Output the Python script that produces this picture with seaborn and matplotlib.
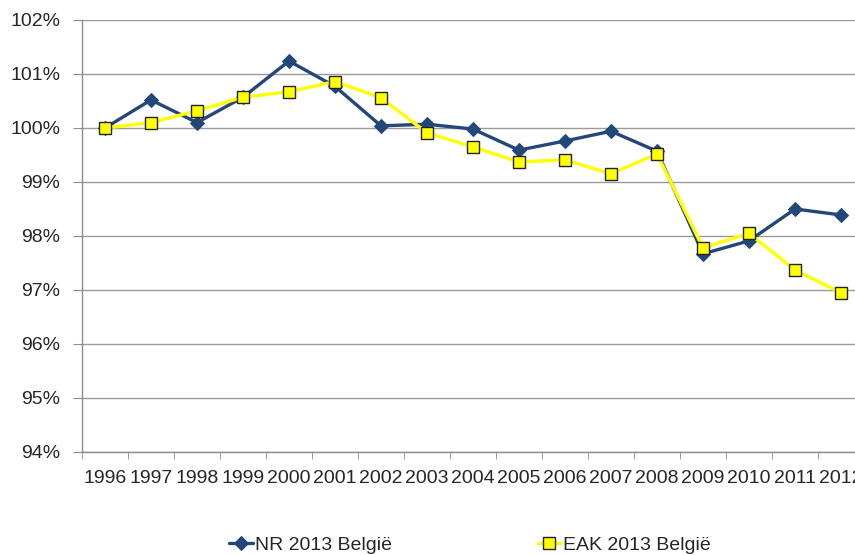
import matplotlib
matplotlib.use("Agg")
import matplotlib.pyplot as plt
import seaborn as sns
import pandas as pd
from matplotlib.ticker import FuncFormatter, FixedLocator

# data (index 1996 = 100%)
years = ["1996", "1997", "1998", "1999", "2000", "2001", "2002", "2003", "2004",
         "2005", "2006", "2007", "2008", "2009", "2010", "2011", "2012"]
nr_2013 = [100.00, 100.52, 100.10, 100.57, 101.24, 100.77, 100.04, 100.07, 99.98,
           99.59, 99.76, 99.94, 99.57, 97.67, 97.91, 98.50, 98.39]
eak_2013 = [100.00, 100.10, 100.32, 100.57, 100.67, 100.86, 100.56, 99.91, 99.65,
            99.37, 99.41, 99.15, 99.52, 97.78, 98.05, 97.37, 96.95]

sns.set_style("white")
plt.rcParams["font.family"] = ["Liberation Sans", "DejaVu Sans"]

df = pd.DataFrame({"idx": range(len(years)), "NR": nr_2013, "EAK": eak_2013})

fig = plt.figure(figsize=(8.55, 5.55), dpi=100)
ax = fig.add_axes([82 / 855, 103 / 555, 782 / 855, 432 / 555])

sns.lineplot(data=df, x="idx", y="NR", ax=ax, color="#24477A", linewidth=2.4,
             marker="D", markersize=7, markeredgecolor="#24477A",
             label="NR 2013 België", zorder=3)
sns.lineplot(data=df, x="idx", y="EAK", ax=ax, color="#FFFF00", linewidth=2.4,
             marker="s", markersize=9, markeredgecolor="#222222", markeredgewidth=1.0,
             label="EAK 2013 België", zorder=4)

ax.set_xlim(-0.5, len(years) - 0.5)
ax.set_ylim(94, 102)
ax.set_yticks(range(94, 103))
ax.yaxis.set_major_formatter(FuncFormatter(lambda v, p: f"{int(round(v))}%"))
ax.grid(axis="y", color="#9A9A9A", linewidth=1.0)
ax.set_axisbelow(True)

ax.set_xticks(range(len(years)))
ax.set_xticklabels(years)
ax.xaxis.set_minor_locator(FixedLocator([i - 0.5 for i in range(len(years) + 1)]))
ax.tick_params(axis="x", which="major", length=0, pad=13, labelsize=14)
ax.tick_params(axis="x", which="minor", length=5, color="#8C8C8C", direction="out", bottom=True)
ax.tick_params(axis="y", length=6.5, color="#8C8C8C", direction="out", left=True, pad=9, labelsize=14)

for s in ["top", "right"]:
    ax.spines[s].set_visible(False)
for s in ["left", "bottom"]:
    ax.spines[s].set_color("#8C8C8C")
    ax.spines[s].set_linewidth(1.0)

ax.set_xlabel("")
ax.set_ylabel("")

ax.legend(loc="center", bbox_to_anchor=(470 / 855, 10 / 555), bbox_transform=fig.transFigure,
          ncol=2, frameon=False, fontsize=14, columnspacing=7.5, handlelength=1.2,
          handletextpad=0.1)

plt.savefig("out.png", dpi=100)
